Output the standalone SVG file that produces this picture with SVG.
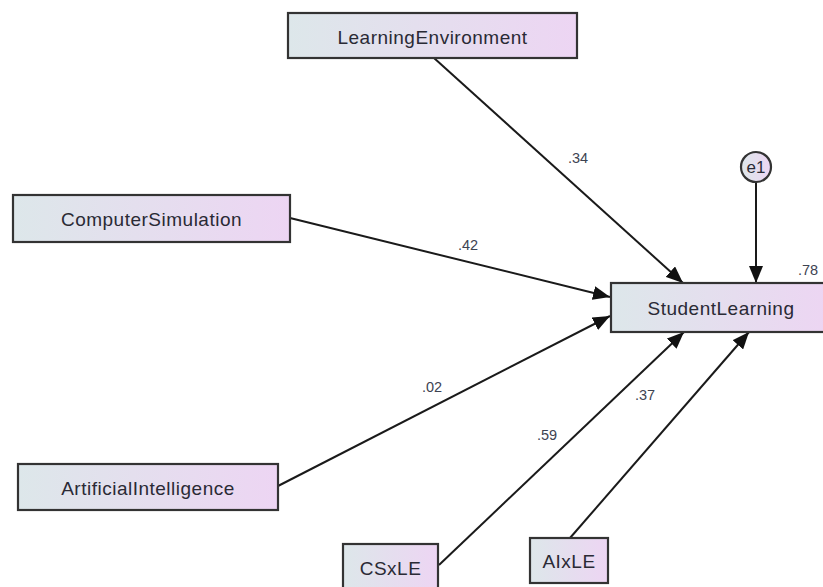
<svg xmlns="http://www.w3.org/2000/svg" width="823" height="587" viewBox="0 0 823 587">
<defs>
<linearGradient id="g" x1="0" y1="0" x2="1" y2="0">
<stop offset="0" stop-color="#dde7ea"/>
<stop offset="1" stop-color="#edd5f3"/>
</linearGradient>
<marker id="ah" markerUnits="userSpaceOnUse" markerWidth="18" markerHeight="14" refX="17" refY="7" orient="auto">
<path d="M0,0 L17,7 L0,14 Z" fill="#111"/>
</marker>
<style>
.box{fill:url(#g);stroke:#333;stroke-width:2.2}
.lbl{font-family:"Liberation Sans",Arial,sans-serif;font-size:19px;letter-spacing:0.5px;fill:#2a2a35;text-anchor:middle;dominant-baseline:central}
.num{font-family:"Liberation Sans",Arial,sans-serif;font-size:14.5px;fill:#3d4352;text-anchor:middle;dominant-baseline:central}
.edge{stroke:#1a1a1a;stroke-width:2;fill:none;marker-end:url(#ah)}
</style>
</defs>
<rect width="823" height="587" fill="#fff"/>
<g id="connectors">
<line class="edge" x1="434" y1="58" x2="683" y2="283"/>
<line class="edge" x1="290" y1="218" x2="610" y2="297"/>
<line class="edge" x1="278" y1="486" x2="610" y2="316"/>
<line class="edge" x1="439" y1="565" x2="684" y2="332"/>
<line class="edge" x1="570" y1="538" x2="749" y2="332"/>
<line class="edge" x1="756" y1="182" x2="756" y2="283"/>
<text class="num" x="578" y="158">.34</text>
<text class="num" x="468" y="245">.42</text>
<text class="num" x="432" y="387">.02</text>
<text class="num" x="547" y="435">.59</text>
<text class="num" x="645" y="395">.37</text>
<text class="num" x="808" y="270">.78</text>
</g>
<g id="LearningEnvironment">
<rect class="box" x="288" y="13" width="289" height="45"/>
<text class="lbl" x="432.5" y="37">LearningEnvironment</text>
</g>
<g id="ComputerSimulation">
<rect class="box" x="13" y="195" width="277" height="47"/>
<text class="lbl" x="151.5" y="219">ComputerSimulation</text>
</g>
<g id="ArtificialIntelligence">
<rect class="box" x="18" y="464" width="260" height="46"/>
<text class="lbl" x="148" y="488">ArtificialIntelligence</text>
</g>
<g id="StudentLearning">
<rect class="box" x="611" y="283" width="221" height="49"/>
<text class="lbl" x="721" y="308">StudentLearning</text>
</g>
<g id="CSxLE">
<rect class="box" x="343" y="544" width="95" height="48"/>
<text class="lbl" x="390.5" y="568">CSxLE</text>
</g>
<g id="AIxLE">
<rect class="box" x="530" y="538" width="78" height="45"/>
<text class="lbl" x="569" y="561">AIxLE</text>
</g>
<g id="e1">
<circle class="box" cx="756" cy="167" r="15"/>
<text class="lbl" x="756" y="167" style="font-size:17px;letter-spacing:0">e1</text>
</g>
</svg>
